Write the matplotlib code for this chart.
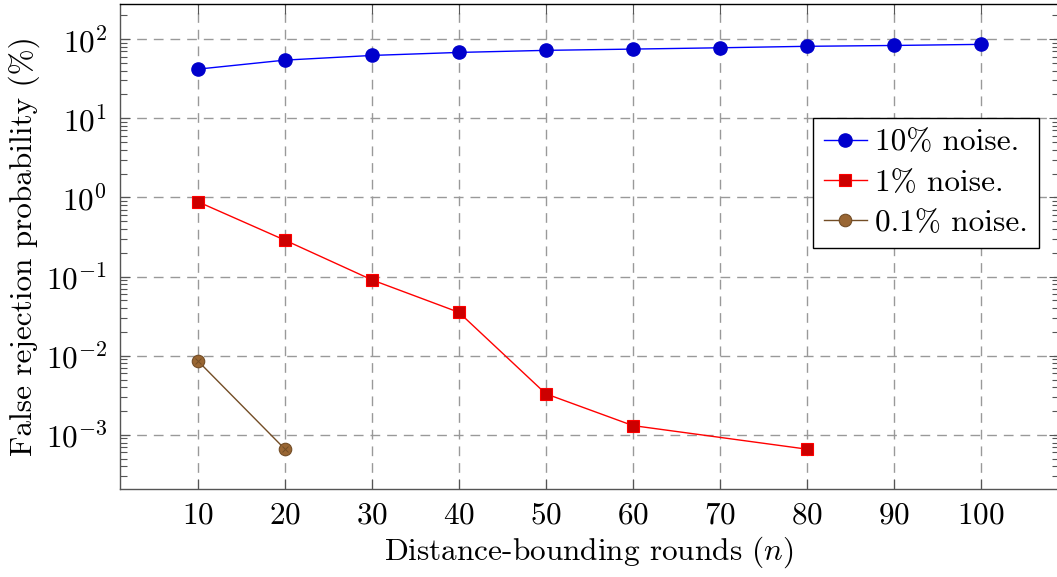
import numpy as np
import matplotlib
matplotlib.use("Agg")
import matplotlib.pyplot as plt

plt.rcParams['font.family'] = ['cmr10', 'DejaVu Serif']
plt.rcParams['mathtext.fontset'] = 'cm'
plt.rcParams['axes.formatter.use_mathtext'] = True
plt.rcParams['axes.unicode_minus'] = False

# values (false rejection probability in %)
rounds = [10, 20, 30, 40, 50, 60, 70, 80, 90, 100]
noise_10 = [41.7, 54.2, 62.1, 67.8, 72.0, 74.7, 77.6, 81.0, 83.0, 85.7]

rounds_1 = [10, 20, 30, 40, 50, 60, 80]
noise_1 = [0.88, 0.288, 0.0908, 0.0353, 0.0033, 0.00131, 0.00066]

rounds_01 = [10, 20]
noise_01 = [0.00857, 0.00066]

fs = 22.5

fig = plt.figure(figsize=(10.57, 5.77), dpi=100)
ax = fig.add_axes([119.7 / 1057, 88 / 577, 939.3 / 1057, 485 / 577])

ax.plot(rounds, noise_10, '-', color='#0000ff', lw=1.0, marker='o', ms=9.5,
        mfc='#0000cc', mec='#0000cc', label='10% noise.', zorder=3)
ax.plot(rounds_1, noise_1, '-', color='#ff0000', lw=1.0, marker='s', ms=8.5,
        mfc='#cc0000', mec='#ff0000', mew=0.8, label='1% noise.', zorder=3)
ax.plot(rounds_01, noise_01, '-', color='#734d26', lw=1.0, marker='o', ms=9,
        mfc='#996633', mec='#734d26', mew=0.8, label='0.1% noise.', zorder=3)
# the "x" inside the otimes marks
ax.plot(rounds_01, noise_01, ' ', marker='x', ms=5, mec='#734d26', mew=0.7, zorder=4)

ax.set_yscale('log')
ax.set_xlim(1, 109)
ax.set_ylim(10 ** -3.684, 10 ** 2.443)
ax.set_xticks(rounds)
ax.set_yticks([1e-3, 1e-2, 1e-1, 1e0, 1e1, 1e2])

ax.grid(True, which='major', color='#999999', linestyle=(0, (7, 5)), lw=1.0)
ax.tick_params(axis='both', which='both', direction='in', top=True, right=True,
               labelsize=fs, color='#555555')
ax.tick_params(axis='both', which='major', length=7, width=0.8, pad=9)
ax.tick_params(axis='y', which='minor', length=5, width=0.8)
ax.tick_params(axis='x', which='minor', bottom=False, top=False)

for side in ['left', 'bottom', 'right']:
    ax.spines[side].set_color('#555555')
    ax.spines[side].set_linewidth(1.0)
ax.spines['top'].set_color('black')
ax.spines['top'].set_linewidth(1.0)

ax.set_xlabel('Distance-bounding rounds ($n$)', fontsize=fs, labelpad=4)
ax.set_ylabel('False rejection probability (%)', fontsize=fs, labelpad=4)

leg = ax.legend(loc='upper right', bbox_to_anchor=(0.9787, 0.7656),
                borderaxespad=0, fontsize=fs, fancybox=False, framealpha=1,
                edgecolor='black', handlelength=1.4, handletextpad=0.25,
                labelspacing=0.4, borderpad=0.35)
leg.get_frame().set_linewidth(1.0)

fig.savefig('out.png', dpi=100)
